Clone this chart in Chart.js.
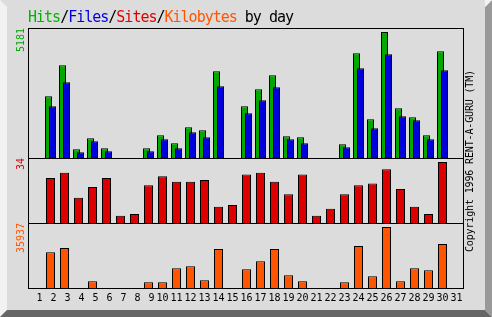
<!DOCTYPE html>
<html>
<head>
<meta charset="utf-8">
<script src="https://cdn.jsdelivr.net/npm/chart.js@4"></script>
<style>
  body { margin: 0; }
  #wrap { position: relative; width: 492px; height: 317px; background: #dcdcdc; overflow: hidden; }
  .face { position: absolute; left: 0; top: 0; width: 492px; height: 317px; }
  #leftFace { background: #f2f2f2; clip-path: polygon(0 0, 7px 7px, 7px 310px, 0 317px); }
  #bottomFace { background: #666666; clip-path: polygon(0 317px, 7px 310px, 485px 310px, 492px 317px); }
  #rightFace { background: #999999; clip-path: polygon(485px 7px, 492px 0, 492px 317px, 485px 310px); }
  #cornerFace { background: #f2f2f2; clip-path: polygon(485px 0, 492px 0, 485px 7px); }
  canvas { position: absolute; left: 0; top: 0; }
  #title { position: absolute; left: 28px; top: 10px; font: 15px/15px "DejaVu Sans Mono", monospace; letter-spacing: -1px; white-space: nowrap; color: #000; }
  #copy { position: absolute; left: 470px; top: 161px; transform: translate(-50%, -50%) rotate(-90deg);
          font: 10px/10px "DejaVu Sans Mono", monospace; letter-spacing: -0.15px; white-space: nowrap; color: #000; }
</style>
</head>
<body>
<div id="wrap">
  <div class="face" id="leftFace"></div>
  <div class="face" id="bottomFace"></div>
  <div class="face" id="rightFace"></div>
  <div class="face" id="cornerFace"></div>
  <canvas id="daily" width="492" height="317"></canvas>
  <div id="title"><span style="color:#00b400">Hits</span>/<span style="color:#0000e0">Files</span>/<span style="color:#e00000">Sites</span>/<span style="color:#ff5500">Kilobytes</span> by day</div>
  <div id="copy">Copyright 1996 RENT-A-GURU (TM)</div>
</div>
<script>
// daily values
const days = ['1','2','3','4','5','6','7','8','9','10','11','12','13','14','15','16',
              '17','18','19','20','21','22','23','24','25','26','27','28','29','30','31'];
const hits = [0, 2543, 3821, 359, 812, 400, 0, 0, 400, 936, 606, 1265, 1142, 3574, 0, 2131,
              2832, 3409, 894, 853, 0, 0, 565, 4315, 1595, 5181, 2048, 1678, 936, 4398, 0];
const files = [0, 2131, 3120, 235, 688, 276, 0, 0, 276, 771, 400, 1059, 853, 2955, 0, 1842,
               2378, 2914, 771, 606, 0, 0, 441, 3697, 1224, 4274, 1719, 1554, 771, 3615, 0];
const sites = [0, 25, 28, 14, 20, 25, 4, 5, 21, 26, 23, 23, 24, 9, 10, 27,
               28, 23, 16, 27, 4, 8, 16, 21, 22, 30, 19, 9, 5, 34, 0];
const kbytes = [0, 21135, 23504, 0, 3967, 0, 0, 0, 3375, 3375, 11663, 12847, 4559, 22912, 0, 11071,
                15808, 22912, 7519, 3967, 0, 0, 3375, 24688, 6927, 35937, 3967, 11663, 10479, 25872, 0];

const GREEN = '#00a800', BLUE = '#0000dd', RED = '#dd0000', ORANGE = '#ff5500';
const MONO = 'DejaVu Sans Mono';

// webalizer draws files over hits, so draw files last
const filesOnTop = {
  id: 'filesOnTop',
  beforeDatasetDraw(chart, args) {
    if (args.index === 1) return false;
  },
  afterDatasetsDraw(chart) {
    chart.getDatasetMeta(1).controller.draw();
  }
};

// black box around each panel
const frames = {
  id: 'frames',
  afterDatasetsDraw(chart) {
    const {ctx, chartArea} = chart;
    const x0 = Math.floor(chartArea.left) - 0.5;
    const x1 = Math.floor(chartArea.right) + 0.5;
    ctx.save();
    ctx.strokeStyle = '#000';
    ctx.lineWidth = 1;
    ['y1', 'y2', 'y3'].forEach(id => {
      const s = chart.scales[id];
      ctx.strokeRect(x0, Math.round(s.top) + 0.5, x1 - x0, Math.round(s.bottom - s.top));
    });
    ctx.restore();
  }
};

function panelAxis(weight, max, label, color) {
  return {
    type: 'linear',
    position: 'left',
    stack: 'days',
    stackWeight: weight,
    min: 0,
    max: max,
    ticks: { display: false },
    grid: { display: false, drawTicks: false },
    border: { display: false },
    title: {
      display: true, text: label, color: color, align: 'end',
      font: { family: MONO, size: 10 }, padding: { top: 15, bottom: 0 }
    },
    afterFit: s => { s.width = 29.5; }
  };
}

new Chart(document.getElementById('daily'), {
  type: 'bar',
  data: {
    labels: days,
    datasets: [
      { label: 'Hits', data: hits, yAxisID: 'y1', backgroundColor: GREEN,
        categoryPercentage: 4 / 7, barPercentage: 1.75 },
      { label: 'Files', data: files, yAxisID: 'y1', backgroundColor: BLUE,
        categoryPercentage: 4 / 7, barPercentage: 1.75 },
      { label: 'Sites', data: sites, yAxisID: 'y2', backgroundColor: RED, grouped: false,
        categoryPercentage: 1, barPercentage: 9 / 14 },
      { label: 'Kilobytes', data: kbytes, yAxisID: 'y3', backgroundColor: ORANGE, grouped: false,
        categoryPercentage: 1, barPercentage: 9 / 14 }
    ]
  },
  options: {
    responsive: false,
    devicePixelRatio: 1,
    animation: false,
    layout: { padding: { left: 0, top: 28, right: 28.5, bottom: 0 } },
    datasets: {
      bar: { borderColor: '#000', borderWidth: 1, inflateAmount: 0 }
    },
    plugins: { legend: { display: false }, tooltip: { enabled: false } },
    scales: {
      x: {
        grid: { display: false, drawTicks: false },
        border: { display: false },
        ticks: {
          autoSkip: false, maxRotation: 0, padding: 4, color: '#000',
          font: { family: MONO, size: 10 },
          callback: (v, i) => days[i].padStart(2, ' ')
        },
        afterFit: s => { s.height = 29; }
      },
      // left boxes are stacked in reverse, so the bottom panel comes first
      y3: panelAxis(1, 38300, String(Math.max(...kbytes)), ORANGE),
      y2: panelAxis(1, 36.2, String(Math.max(...sites)), RED),
      y1: panelAxis(2, 5350, String(Math.max(...hits)), GREEN)
    }
  },
  plugins: [filesOnTop, frames]
});
</script>
</body>
</html>
